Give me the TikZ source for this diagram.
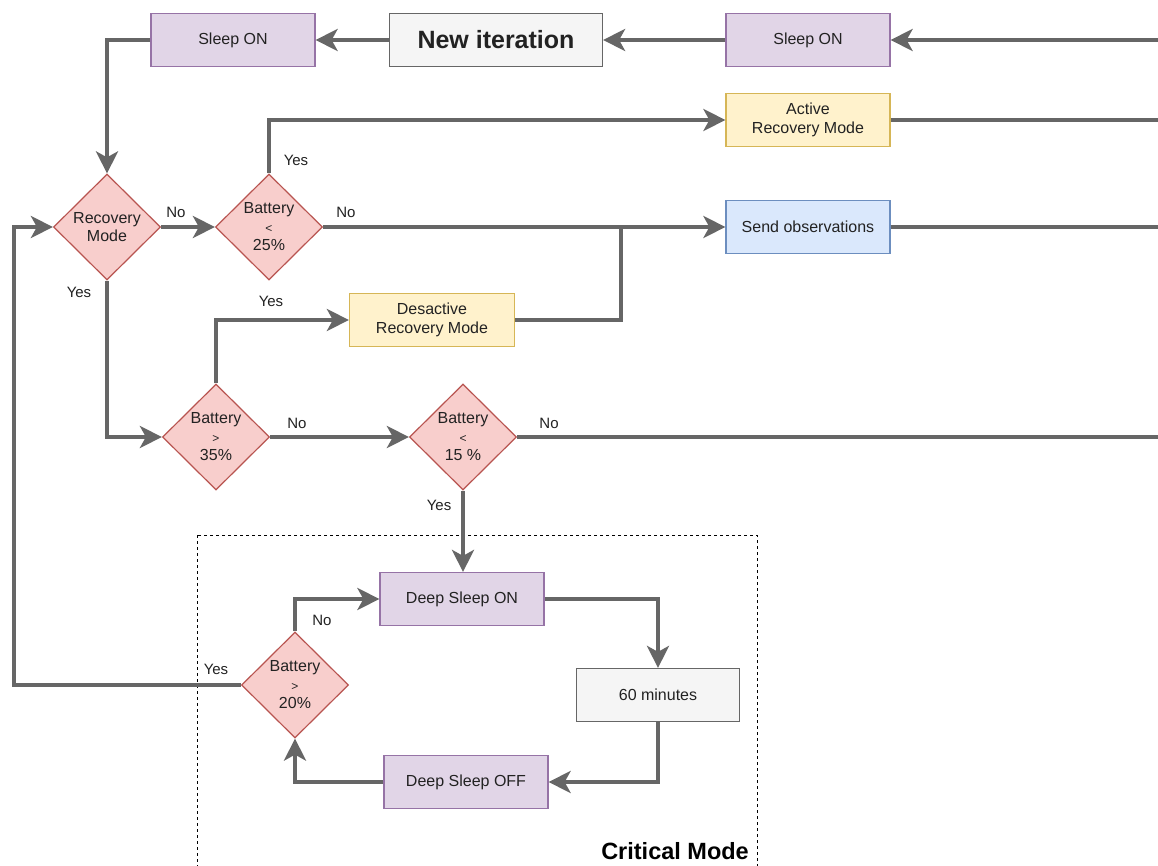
\documentclass[tikz,border=0pt]{standalone}
\usepackage{fontspec}
\setmainfont{Liberation Sans}
\usetikzlibrary{shapes.geometric,arrows.meta}
\definecolor{edgec}{HTML}{666666}
\definecolor{txt}{HTML}{222222}
\definecolor{pfill}{HTML}{E1D5E7}
\definecolor{pdraw}{HTML}{9673A6}
\definecolor{gfill}{HTML}{F5F5F5}
\definecolor{gdraw}{HTML}{666666}
\definecolor{yfill}{HTML}{FFF2CC}
\definecolor{ydraw}{HTML}{D6B656}
\definecolor{bfill}{HTML}{DAE8FC}
\definecolor{bdraw}{HTML}{6C8EBF}
\definecolor{rfill}{HTML}{F8CECC}
\definecolor{rdraw}{HTML}{B85450}
\begin{document}
\begin{tikzpicture}[x=1pt,y=-1pt,
  box/.style={draw, line width=1.2pt, minimum width=164pt, minimum height=53pt, inner sep=2pt, align=center, font=\fontsize{16}{18.5}\selectfont, text=txt},
  purp/.style={box, fill=pfill, draw=pdraw},
  greyb/.style={box, fill=gfill, draw=gdraw},
  yel/.style={box, fill=yfill, draw=ydraw},
  blu/.style={box, fill=bfill, draw=bdraw},
  dia/.style={diamond, draw=rdraw, fill=rfill, line width=1.2pt, minimum width=107pt, minimum height=106pt, inner sep=0pt, aspect=1, align=center, font=\fontsize{16}{18.5}\selectfont, text=txt},
  flow/.style={draw=edgec, line width=4pt, -{Stealth[length=22pt,width=22pt,inset=6pt]}},
  plain/.style={draw=edgec, line width=4pt},
  lbl/.style={font=\fontsize{15}{17}\selectfont, text=txt, inner sep=0pt},
  crit/.style={dash pattern=on 3pt off 3pt, line width=1pt, draw=black}
]
\useasboundingbox (0,0) rectangle (1158,866);
\fill[white] (0,0) rectangle (1158,866);

% critical mode frame
\draw[crit] (197,535) rectangle (757,880);
\node[anchor=east, font=\bfseries\fontsize{23.5}{27}\selectfont, inner sep=0pt] (critlbl) at (749,851) {Critical Mode};

% boxes
\node[purp] (sl1) at (233,40) {Sleep ON};
\node[greyb, minimum width=213pt, font=\bfseries\fontsize{25}{29}\selectfont] (ni) at (496,40) {New iteration};
\node[purp] (sl2) at (808,40) {Sleep ON};
\node[yel] (arm) at (808,120) {Active\\Recovery Mode};
\node[blu] (so) at (808,227) {Send observations};
\node[yel, minimum width=165pt] (des) at (432,320) {Desactive\\Recovery Mode};
\node[purp] (dson) at (462,599) {Deep Sleep ON};
\node[greyb, minimum width=163pt] (min) at (658,695) {60 minutes};
\node[purp] (dsoff) at (466,782) {Deep Sleep OFF};

% diamonds
\node[dia] (rm) at (107,227) {Recovery\\Mode};
\node[dia] (b25) at (269,227) {Battery\\{\fontsize{12}{18.5}\selectfont<}\\25\%};
\node[dia] (b35) at (216,437) {Battery\\{\fontsize{12}{18.5}\selectfont>}\\35\%};
\node[dia] (b15) at (463,437) {Battery\\{\fontsize{12}{18.5}\selectfont<}\\15 \%};
\node[dia] (b20) at (295,685) {Battery\\{\fontsize{12}{18.5}\selectfont>}\\20\%};

% free ends
\coordinate (r1) at (1158,40);
\coordinate (r2) at (1158,120);
\coordinate (r3) at (1158,227);
\coordinate (r4) at (1158,437);
\coordinate (j) at (621,227);
\coordinate (lft) at (14,685);

% connectors
\draw[flow] (r1) -- (sl2.east);
\draw[flow] (sl2.west) -- (ni.east);
\draw[flow] (ni.west) -- (sl1.east);
\draw[flow] (sl1.west) -| (rm.north);
\draw[flow] (rm.east) -- (b25.west);
\draw[flow] (b25.north) |- (arm.west);
\draw[plain] (arm.east) -- (r2);
\draw[flow] (b25.east) -- (so.west);
\draw[plain] (so.east) -- (r3);
\draw[flow] (rm.south) |- (b35.west);
\draw[flow] (b35.north) |- (des.west);
\draw[plain] (des.east) -| (j);
\draw[flow] (b35.east) -- (b15.west);
\draw[plain] (b15.east) -- (r4);
\draw[flow] (b15.south) -- (b15.south |- dson.north);
\draw[flow] (dson.east) -| (min.north);
\draw[flow] (min.south) |- (dsoff.east);
\draw[flow] (dsoff.west) -| (b20.south);
\draw[flow] (b20.north) |- (dson.west);
\draw[flow] (b20.west) -- (lft) |- (rm.west);

% labels
\node[lbl] (l1) at (176,212) {No};
\node[lbl] (l2) at (296,160) {Yes};
\node[lbl] (l3) at (346,212) {No};
\node[lbl] (l4) at (79,292) {Yes};
\node[lbl] (l5) at (271,301) {Yes};
\node[lbl] (l6) at (297,423) {No};
\node[lbl] (l7) at (549,423) {No};
\node[lbl] (l8) at (439,505) {Yes};
\node[lbl] (l9) at (322,620) {No};
\node[lbl] (l10) at (216,669) {Yes};
\end{tikzpicture}
\end{document}
